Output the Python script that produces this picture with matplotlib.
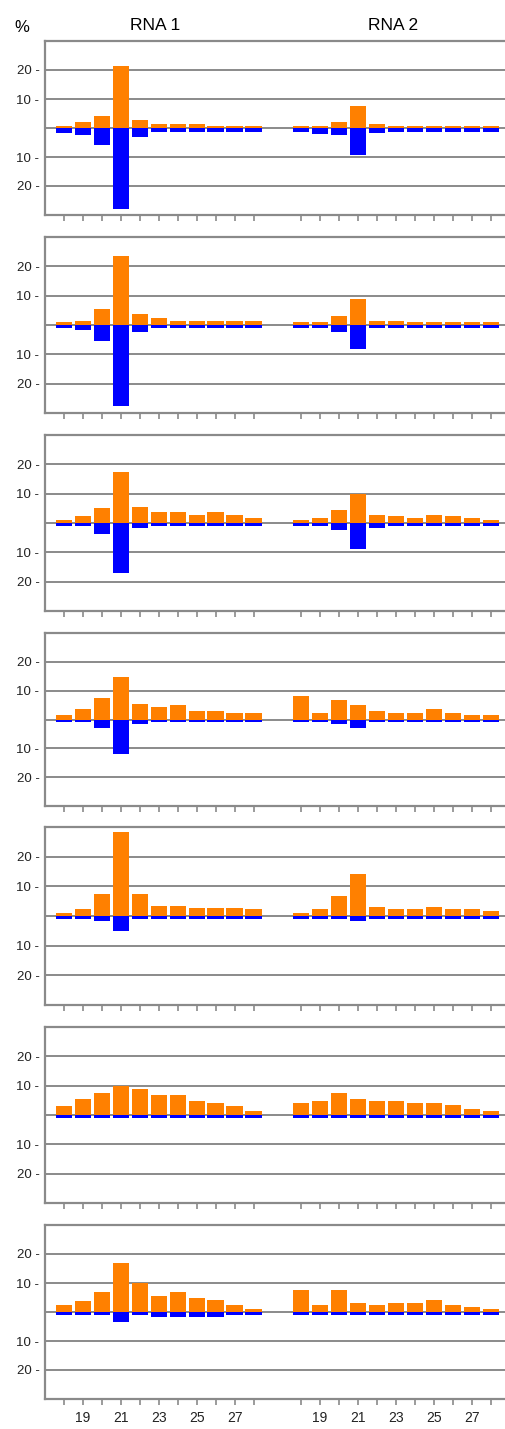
import numpy as np
import matplotlib
matplotlib.use("Agg")
import matplotlib.pyplot as plt

plt.rcParams['font.family'] = ['Liberation Sans', 'DejaVu Sans']

lengths = [18, 19, 20, 21, 22, 23, 24, 25, 26, 27, 28]
length_labels = ['', '19', '', '21', '', '23', '', '25', '', '27', '']

# percent of reads per length, one row per sample (top to bottom)
rna1_sense = [
    [0.7, 2.1, 4.1, 21.4, 2.9, 1.5, 1.5, 1.5, 0.7, 0.7, 0.7],
    [0.9, 1.5, 5.6, 23.5, 3.6, 2.3, 1.5, 1.5, 1.5, 1.5, 1.5],
    [1.0, 2.3, 5.0, 17.5, 5.6, 3.6, 3.6, 2.8, 3.6, 2.8, 1.6],
    [1.6, 3.5, 7.5, 14.8, 5.5, 4.2, 5.0, 2.9, 2.9, 2.2, 2.2],
    [0.9, 2.2, 7.5, 28.3, 7.5, 3.5, 3.5, 2.8, 2.8, 2.8, 2.2],
    [2.9, 5.5, 7.5, 9.9, 8.8, 6.9, 6.9, 4.8, 4.1, 2.9, 1.5],
    [2.3, 3.7, 6.9, 16.9, 10.1, 5.6, 6.9, 4.9, 4.3, 2.3, 1.0],
]
rna1_antisense = [
    [1.7, 2.4, 5.7, 27.8, 3.1, 1.3, 1.3, 1.3, 1.3, 1.3, 1.3],
    [1.1, 1.7, 5.6, 27.7, 2.3, 1.1, 1.1, 1.1, 1.1, 1.1, 1.1],
    [0.9, 0.9, 3.6, 17.0, 1.7, 0.9, 0.9, 0.9, 0.9, 0.9, 0.9],
    [1.0, 1.0, 3.0, 12.1, 1.6, 1.0, 1.0, 1.0, 1.0, 1.0, 1.0],
    [1.0, 1.0, 1.7, 5.2, 1.0, 1.0, 1.0, 1.0, 1.0, 1.0, 1.0],
    [1.1, 1.1, 1.1, 1.1, 1.1, 1.1, 1.1, 1.1, 1.1, 1.1, 1.1],
    [1.0, 1.0, 1.0, 3.4, 1.0, 1.6, 1.6, 1.6, 1.6, 1.0, 1.0],
]
rna2_sense = [
    [0.7, 0.7, 2.1, 7.5, 1.5, 0.7, 0.7, 0.7, 0.7, 0.7, 0.7],
    [0.9, 0.9, 3.0, 8.8, 1.5, 1.5, 0.9, 0.9, 0.9, 0.9, 0.9],
    [1.0, 1.6, 4.3, 9.9, 2.8, 2.3, 1.6, 2.8, 2.3, 1.6, 1.0],
    [8.2, 2.2, 6.9, 5.0, 2.9, 2.2, 2.2, 3.6, 2.2, 1.6, 1.6],
    [0.9, 2.2, 6.9, 14.3, 2.9, 2.2, 2.2, 2.9, 2.2, 2.2, 1.6],
    [4.1, 4.8, 7.5, 5.5, 4.8, 4.8, 4.1, 4.1, 3.4, 2.1, 1.4],
    [7.7, 2.3, 7.7, 3.0, 2.3, 3.0, 3.0, 4.3, 2.3, 1.6, 1.0],
]
rna2_antisense = [
    [1.3, 2.0, 2.5, 9.2, 1.7, 1.3, 1.3, 1.3, 1.3, 1.3, 1.3],
    [1.1, 1.1, 2.3, 8.2, 1.1, 1.1, 1.1, 1.1, 1.1, 1.1, 1.1],
    [0.9, 0.9, 2.3, 9.0, 1.7, 0.9, 0.9, 0.9, 0.9, 0.9, 0.9],
    [1.0, 1.0, 1.6, 2.9, 1.0, 1.0, 1.0, 1.0, 1.0, 1.0, 1.0],
    [1.0, 1.0, 1.0, 1.7, 1.0, 1.0, 1.0, 1.0, 1.0, 1.0, 1.0],
    [1.1, 1.1, 1.1, 1.1, 1.1, 1.1, 1.1, 1.1, 1.1, 1.1, 1.1],
    [1.0, 1.0, 1.0, 1.0, 1.0, 1.0, 1.0, 1.0, 1.0, 1.0, 1.0],
]

orange = '#ff8000'
blue = '#0000ff'
gray = '#8a8a8a'

W, H = 505, 1429
fig = plt.figure(figsize=(W / 100, H / 100), dpi=100)

# panel top/bottom edges in pixels
panel_top = [41, 237, 435, 633, 827, 1027, 1225]
panel_bottom = [215, 413, 611, 806, 1005, 1203, 1399]
left_px = 45

x1 = np.arange(len(lengths))
x2 = x1 + 12.5
width = 0.87

for i in range(7):
    ax = fig.add_axes([left_px / W, 1 - panel_bottom[i] / H,
                       1 - left_px / W, (panel_bottom[i] - panel_top[i]) / H])

    for y in [-20, -10, 0, 10, 20]:
        ax.axhline(y, color=gray, lw=1.4, zorder=1)

    ax.bar(x1, rna1_sense[i], width, color=orange, zorder=2)
    ax.bar(x1, -np.array(rna1_antisense[i]), width, color=blue, zorder=2)
    ax.bar(x2, rna2_sense[i], width, color=orange, zorder=2)
    ax.bar(x2, -np.array(rna2_antisense[i]), width, color=blue, zorder=2)

    ax.set_xlim(-1.0, 23.25)
    ax.set_ylim(-30, 30)

    ax.set_yticks([-20, -10, 10, 20])
    ax.set_yticklabels(['20 -', '10 -', '10 -', '20 -'], fontsize=9.5, color='#222222')
    ax.tick_params(axis='y', length=0, pad=4)

    ax.set_xticks(np.concatenate([x1, x2]))
    if i == 6:
        ax.set_xticklabels(length_labels + length_labels, fontsize=10, color='#222222')
    else:
        ax.set_xticklabels([])
    ax.tick_params(axis='x', length=4, width=1.2, color=gray, pad=5)

    for side in ['left', 'top', 'bottom']:
        ax.spines[side].set_color(gray)
        ax.spines[side].set_linewidth(1.6)
    ax.spines['right'].set_visible(False)

fig.text(155 / W, 1 - 25 / H, 'RNA 1', fontsize=12.5, ha='center', va='center')
fig.text(393 / W, 1 - 25 / H, 'RNA 2', fontsize=12.5, ha='center', va='center')
fig.text(22 / W, 1 - 27 / H, '%', fontsize=12, ha='center', va='center')

fig.savefig('out.png', dpi=100)
